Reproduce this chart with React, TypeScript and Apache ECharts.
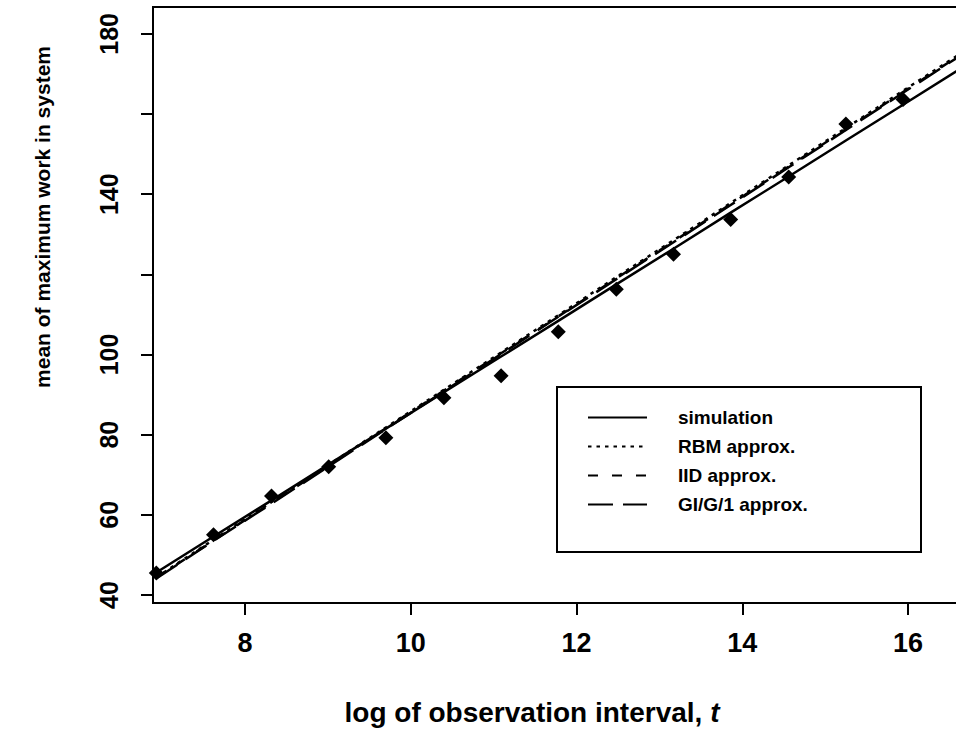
import React, { useEffect, useRef } from "react";
import * as echarts from "echarts";

// log of observation interval (k * ln 2)
const xs = [6.93, 7.62, 8.32, 9.01, 9.7, 10.4, 11.09, 11.78, 12.48, 13.17, 13.86, 14.56, 15.25, 15.94, 16.64];
const simulationLine = [45.6, 54.6, 63.6, 72.6, 81.5, 90.6, 99.5, 108.4, 117.5, 126.4, 135.4, 144.4, 153.4, 162.3, 171.4];
const rbmApprox = [44.4, 53.8, 63.2, 72.5, 81.8, 91.2, 100.5, 109.8, 119.3, 128.5, 137.8, 147.2, 156.5, 165.8, 175.2];
const iidApprox = [44.3, 53.6, 63.0, 72.3, 81.6, 91.0, 100.3, 109.5, 119.0, 128.2, 137.5, 146.9, 156.2, 165.5, 174.9];
const gig1Approx = [44.1, 53.5, 62.8, 72.1, 81.4, 90.8, 100.1, 109.4, 118.8, 128.0, 137.3, 146.7, 156.0, 165.3, 174.7];
const pointXs = [6.93, 7.62, 8.32, 9.01, 9.7, 10.4, 11.09, 11.78, 12.48, 13.17, 13.86, 14.56, 15.25, 15.94];
const pointValues = [45.5, 55.0, 64.7, 72.0, 79.2, 89.2, 94.7, 105.7, 116.3, 125.0, 133.7, 144.3, 157.5, 163.6];

const xTicks = [8, 10, 12, 14, 16];
const yTicks = [40, 60, 80, 100, 120, 140, 160, 180];
const yLabels = [40, 60, 80, 100, 140, 180];

const FONT = "'Liberation Sans', Arial, Helvetica, sans-serif";

export default function App() {
  const ref = useRef<HTMLDivElement>(null);
  useEffect(() => {
    if (!ref.current) return;
    const chart = echarts.init(ref.current, null, { renderer: "svg" });
    const pair = (arr: number[]) => xs.map((x, i) => [x, arr[i]]);
    const lineSeries = (name: string, arr: number[], type: any, width: number) => ({
      name,
      type: "line",
      data: pair(arr),
      symbol: "none",
      showSymbol: false,
      lineStyle: { color: "#000", width, type },
      itemStyle: { color: "#000" },
      z: 3,
    });
    chart.setOption({
      animation: false,
      backgroundColor: "#fff",
      textStyle: { fontFamily: FONT },
      grid: {
        left: 153,
        top: 7,
        right: -20,
        bottom: 138,
        show: true,
        borderColor: "#000",
        borderWidth: 2,
        backgroundColor: "transparent",
        containLabel: false,
        outerBoundsMode: "none",
      },
      xAxis: {
        type: "value",
        min: 6.89,
        max: 16.82,
        axisLine: { show: true, onZero: false, lineStyle: { color: "#000", width: 2 } },
        axisTick: { show: true, length: 12, customValues: xTicks, lineStyle: { color: "#000", width: 2 } },
        axisLabel: {
          customValues: xTicks,
          margin: 26,
          color: "#000",
          fontSize: 27,
          fontWeight: "bold",
          fontFamily: FONT,
        },
        splitLine: { show: false },
      },
      yAxis: {
        type: "value",
        min: 38,
        max: 186.7,
        axisLine: { show: true, onZero: false, lineStyle: { color: "#000", width: 2 } },
        axisTick: { show: true, length: 12, customValues: yTicks, lineStyle: { color: "#000", width: 2 } },
        axisLabel: {
          customValues: yLabels,
          rotate: 90,
          margin: 32,
          color: "#000",
          fontSize: 25,
          fontWeight: "bold",
          fontFamily: FONT,
        },
        splitLine: { show: false },
      },
      legend: {
        show: true,
        orient: "vertical",
        left: 587,
        top: 408,
        itemWidth: 59,
        itemHeight: 14,
        itemGap: 10,
        padding: 0,
        data: ["simulation", "RBM approx.", "IID approx.", "GI/G/1 approx."],
        itemStyle: { color: "rgba(0,0,0,0)", borderWidth: 0, opacity: 0 },
        textStyle: {
          color: "#000",
          fontSize: 19,
          fontWeight: "bold",
          fontFamily: FONT,
          padding: [0, 0, 0, 26],
        },
        selectedMode: false,
      },
      graphic: [
        {
          type: "rect",
          shape: { x: 557, y: 387, width: 364, height: 165 },
          style: { fill: "none", stroke: "#000", lineWidth: 2 },
          z: 10,
        },
        {
          type: "text",
          x: 532,
          y: 712,
          style: {
            text: "log of observation interval, {i|t}",
            fill: "#000",
            font: `bold 28px ${FONT}`,
            align: "center",
            verticalAlign: "middle",
            rich: { i: { fontStyle: "italic", fontWeight: "bold", fontSize: 28, fontFamily: FONT } },
          },
        },
        {
          type: "text",
          x: 42,
          y: 217,
          rotation: Math.PI / 2,
          style: {
            text: "mean of maximum work in system",
            fill: "#000",
            font: `bold 21px ${FONT}`,
            align: "center",
            verticalAlign: "middle",
          },
        },
      ],
      series: [
        lineSeries("simulation", simulationLine, "solid", 2.5),
        lineSeries("RBM approx.", rbmApprox, [3.5, 5], 2.5),
        lineSeries("IID approx.", iidApprox, [10, 14], 2.5),
        lineSeries("GI/G/1 approx.", gig1Approx, [25, 10], 2.5),
        {
          name: "simulation points",
          type: "scatter",
          data: pointXs.map((x, i) => [x, pointValues[i]]),
          symbol: "diamond",
          symbolSize: [15, 15],
          itemStyle: { color: "#000", opacity: 1 },
          z: 4,
        },
      ],
    });
    return () => chart.dispose();
  }, []);
  return <div ref={ref} style={{ position: "fixed", left: 0, top: 0, width: 956, height: 741 }} />;
}
